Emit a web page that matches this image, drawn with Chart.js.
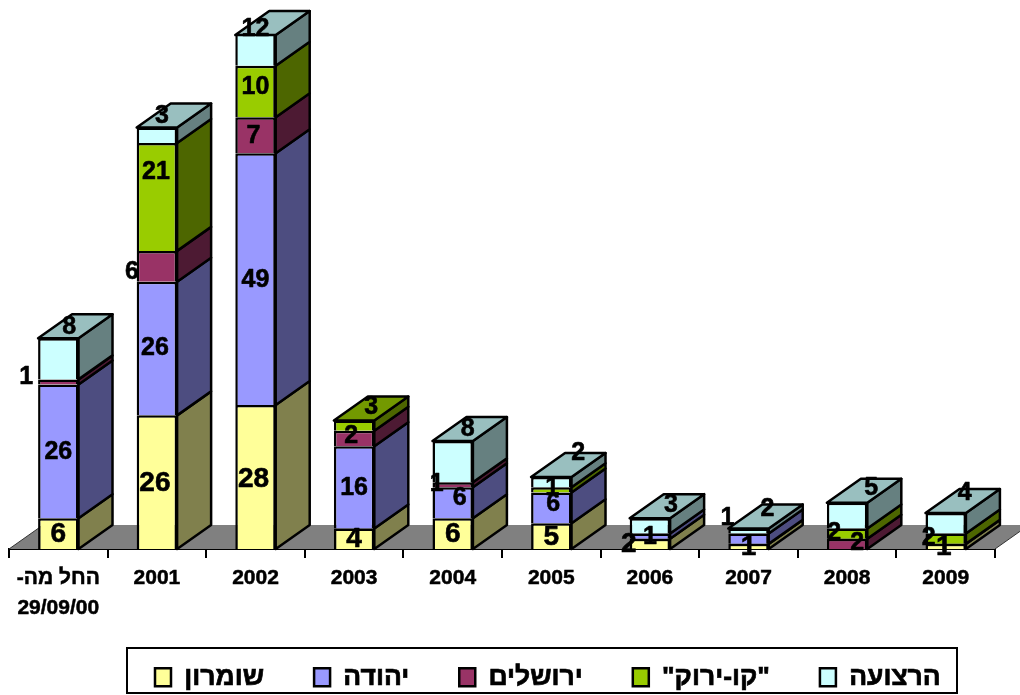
<!DOCTYPE html>
<html>
<head>
<meta charset="utf-8">
<title>chart</title>
<script src="https://cdn.jsdelivr.net/npm/chart.js@4"></script>
<style>
    html, body { margin: 0; padding: 0; background: #fff; }
    canvas { display: block; }
</style>
</head>
<body>
<canvas id="chart" width="1020" height="695"></canvas>
<script>
// \u200f keeps the hyphen on the left of the Hebrew text
const categories = [["החל מה-\u200f", "29/09/00"], "2001", "2002", "2003", "2004", "2005", "2006", "2007", "2008", "2009"];

const seriesNames = ["שומרון", "יהודה", "ירושלים", "\"קו-ירוק\"", "הרצועה"];
const shomron = [6, 26, 28, 4, 6, 5, 2, 1, 0, 1];
const yehuda = [26, 26, 49, 16, 6, 6, 1, 2, 0, 0];
const yerushalayim = [1, 6, 7, 3, 1, 0, 0, 0, 2, 0];
const kavYarok = [0, 21, 10, 2, 0, 1, 0, 0, 2, 2];
const retzua = [8, 3, 12, 0, 8, 2, 3, 1, 5, 4];
const seriesValues = [shomron, yehuda, yerushalayim, kavYarok, retzua];
const seriesColors = ["#FFFF99", "#9999FF", "#993366", "#99CC00", "#CCFFFF"];

const yMax = 100; // the 2002 stack goes past this and gets cut off, same as the original

// depth of the fake 3d look
const depthX = 34;
const depthY = -24;

// labels that sit away from the middle of their segment, "series:category": [dx, dy]
const labelShift = {
    "0:1": [-2, 0], "0:2": [-2, 1], "0:6": [-21, -1], "0:9": [-2, 0],
    "1:1": [-2, -1], "1:4": [7, -6], "1:5": [2, -5], "1:7": [19, -31],
    "2:0": [-32, -6], "2:1": [-25, 5], "2:2": [-2, 0], "2:3": [17, -32], "2:4": [-16, -2], "2:8": [10, -2],
    "3:1": [-1, -26], "3:2": [0, -5], "3:3": [-3, 9], "3:5": [1, -3], "3:8": [-13, -1], "3:9": [-17, -2],
    "4:0": [11, -33], "4:1": [5, -20], "4:2": [0, -7], "4:4": [15, -34], "4:5": [27, -30],
    "4:6": [21, -22], "4:7": [-21, -14], "4:8": [24, -28], "4:9": [19, -31]
};

const legendFrame = { left: 127, top: 648, right: 957, bottom: 693 };
const legendStart = { x: 155, y: 664 };
const legendGap = 50;

const fontFamily = "'Liberation Sans', Arial, sans-serif";
const lineSize = 2.5;

function shade(hex, factor) {
    const n = parseInt(hex.slice(1), 16);
    const r = Math.round((n >> 16) * factor);
    const g = Math.round(((n >> 8) & 255) * factor);
    const b = Math.round((n & 255) * factor);
    return `rgb(${r}, ${g}, ${b})`;
}

function polygon(ctx, points, fill) {
    ctx.beginPath();
    points.forEach((p, i) => i ? ctx.lineTo(p[0], p[1]) : ctx.moveTo(p[0], p[1]));
    ctx.closePath();
    ctx.fillStyle = fill;
    ctx.fill();
    ctx.stroke();
}

// grey floor under the bars
const floorPlugin = {
    id: 'floor',
    beforeDatasetsDraw(chart) {
        const { ctx, chartArea } = chart;
        const { left, right, bottom } = chartArea;
        ctx.save();
        ctx.strokeStyle = '#333';
        ctx.lineWidth = 1;
        ctx.beginPath();
        ctx.moveTo(left, bottom);
        ctx.lineTo(left + depthX, bottom + depthY);
        ctx.lineTo(right + depthX, bottom + depthY);
        ctx.lineTo(right, bottom);
        ctx.closePath();
        ctx.fillStyle = '#808080';
        ctx.fill();
        ctx.beginPath();
        ctx.moveTo(left, bottom);
        ctx.lineTo(left + depthX, bottom + depthY);
        ctx.moveTo(right, bottom);
        ctx.lineTo(right + depthX, bottom + depthY);
        ctx.stroke();
        ctx.restore();
    }
};

// side and top faces of every stack, then the value labels
const depthPlugin = {
    id: 'depth',
    afterDatasetsDraw(chart) {
        const { ctx, chartArea } = chart;
        ctx.save();
        ctx.strokeStyle = '#000';
        ctx.lineWidth = lineSize;
        ctx.lineJoin = 'round';

        categories.forEach((cat, c) => {
            let topSeries = -1;
            seriesValues.forEach((values, s) => {
                if (!values[c]) return;
                topSeries = s;
                const bar = chart.getDatasetMeta(s).data[c];
                const x1 = bar.x + bar.width / 2;
                const top = Math.max(bar.y, chartArea.top);
                polygon(ctx, [[x1, bar.base], [x1, top], [x1 + depthX, top + depthY], [x1 + depthX, bar.base + depthY]], shade(seriesColors[s], 0.5));
            });
            const bar = chart.getDatasetMeta(topSeries).data[c];
            const x0 = bar.x - bar.width / 2;
            const x1 = bar.x + bar.width / 2;
            const top = Math.max(bar.y, chartArea.top);
            polygon(ctx, [[x0, top], [x1, top], [x1 + depthX, top + depthY], [x0 + depthX, top + depthY]], shade(seriesColors[topSeries], 0.75));
        });

        ctx.fillStyle = '#000';
        ctx.lineWidth = 0.6;
        ctx.textAlign = 'center';
        ctx.textBaseline = 'middle';
        seriesValues.forEach((values, s) => {
            ctx.font = `bold ${s === 0 ? 28 : 25}px ${fontFamily}`;
            values.forEach((v, c) => {
                if (!v) return;
                const bar = chart.getDatasetMeta(s).data[c];
                const shift = labelShift[s + ':' + c] || [0, 0];
                const x = bar.x + shift[0];
                const y = (bar.y + bar.base) / 2 + shift[1] + 1;
                ctx.fillText(v, x, y);
                ctx.strokeText(v, x, y);
            });
        });
        ctx.restore();
    }
};

// the legend is placed by hand inside its frame, its text gets a thin outline
// because the Hebrew bold comes out lighter than in the original
const legendFramePlugin = {
    id: 'legendFrame',
    afterLayout(chart) {
        chart.legend.left = legendStart.x - legendGap;
        chart.legend.right = 1020;
        chart.legend.top = legendStart.y - legendGap;
    },
    beforeDraw(chart) {
        const { ctx, legend } = chart;
        if (legend.thickened) return;
        legend.thickened = true;
        const drawLegend = legend.draw.bind(legend);
        legend.draw = function () {
            const fillText = ctx.fillText;
            ctx.fillText = function (text, x, y) {
                fillText.call(ctx, text, x, y);
                ctx.strokeStyle = '#000';
                ctx.lineWidth = 0.7;
                ctx.strokeText(text, x, y);
            };
            drawLegend();
            delete ctx.fillText;
        };
    },
    afterDraw(chart) {
        const { ctx } = chart;
        ctx.save();
        ctx.strokeStyle = '#000';
        ctx.lineWidth = 2;
        ctx.strokeRect(legendFrame.left, legendFrame.top, legendFrame.right - legendFrame.left, legendFrame.bottom - legendFrame.top);
        ctx.restore();
    }
};

new Chart(document.getElementById('chart'), {
    type: 'bar',
    data: {
        labels: categories,
        datasets: seriesNames.map((name, s) => ({
            label: name,
            data: seriesValues[s],
            backgroundColor: seriesColors[s],
            borderColor: '#000',
            borderWidth: lineSize,
            borderSkipped: 'start',
            barPercentage: 0.41,
            categoryPercentage: 1
        }))
    },
    options: {
        responsive: false,
        animation: false,
        layout: { padding: { left: 9, right: 25, top: 35, bottom: 0 } },
        scales: {
            x: {
                stacked: true,
                afterFit(scale) { scale.height = 106; },
                border: { color: '#000', width: 2 },
                grid: { offset: true, drawOnChartArea: false, color: '#000', lineWidth: 2, tickLength: 9 },
                ticks: {
                    color: '#000',
                    padding: 5,
                    maxRotation: 0,
                    autoSkip: false,
                    textStrokeColor: '#000',
                    textStrokeWidth: 0.5,
                    font: { family: fontFamily, size: 21, weight: 'bold', lineHeight: 1.45 }
                }
            },
            y: { stacked: true, display: false, min: 0, max: yMax }
        },
        plugins: {
            tooltip: { enabled: false },
            legend: {
                position: 'bottom',
                align: 'start',
                maxHeight: 40,
                labels: {
                    color: '#000',
                    boxWidth: 16,
                    boxHeight: 18,
                    padding: legendGap,
                    font: { family: fontFamily, size: 26.5, weight: 'bold' }
                }
            }
        }
    },
    plugins: [floorPlugin, depthPlugin, legendFramePlugin]
});
</script>
</body>
</html>
